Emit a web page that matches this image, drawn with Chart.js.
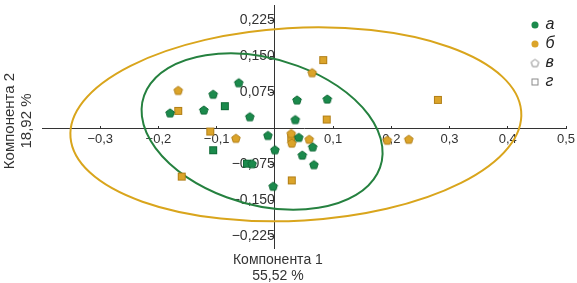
<!DOCTYPE html>
<html><head><meta charset="utf-8">
<script src="https://cdn.jsdelivr.net/npm/chart.js@4.4.1/dist/chart.umd.min.js"></script>
<style>html,body{margin:0;padding:0;background:#fff;overflow:hidden}#wrap{width:577px;height:283px;position:relative}</style>
</head><body><div id="wrap"><canvas id="c"></canvas></div>
<script>
// ---- tick labels & titles ----
const xTicks = [-0.3, -0.2, -0.1, 0.1, 0.2, 0.3, 0.4, 0.5];
const yTicks = [-0.225, -0.15, -0.075, 0.075, 0.15, 0.225];
const xTitle = ['Компонента 1', '55,52 %'];
const yTitle = ['Компонента 2', '18,92 %'];
const legendLabels = ['а', 'б', 'в', 'г'];

// ---- series: group а (green) / б (orange), shape в (pentagon) / г (square) ----
const greenPentX = [-0.062, -0.106, -0.180, -0.122, -0.043, 0.038, 0.090, 0.035, -0.012, 0.041, 0.065, 0.000, 0.047, 0.067, -0.039, -0.003];
const greenPentY = [0.095, 0.071, 0.032, 0.038, 0.024, 0.059, 0.061, 0.018, -0.015, -0.019, -0.039, -0.045, -0.056, -0.076, -0.074, -0.121];
const greenSqX = [-0.086, -0.106, -0.048];
const greenSqY = [0.046, -0.046, -0.074];
const orangePentX = [-0.166, 0.064, -0.067, 0.028, 0.029, 0.059, 0.193, 0.230];
const orangePentY = [0.079, 0.116, -0.021, -0.011, -0.031, -0.023, -0.025, -0.023];
const orangeSqX = [0.083, 0.280, -0.166, 0.089, -0.111, -0.160, 0.029, 0.028];
const orangeSqY = [0.142, 0.059, 0.036, 0.018, -0.007, -0.101, -0.109, -0.020];

// ---- confidence ellipses: [centerX, centerY, semiAxis1, semiAxis2, angleDeg] ----
const greenEllipse = [-0.022, -0.007, 0.2165, 0.150, -24];
const orangeEllipse = [0.036, 0.008, 0.388, 0.201, 4.1];

const GREEN = '#1b8a4c', GREEN_D = '#0f6a36', GREEN_L = '#25813f';
const ORANGE = '#dba42a', ORANGE_D = '#b27f17', ORANGE_L = '#d9a51c';
const GREY = '#8a8a8a';

function pentagon(fill, stroke, size) {
  const s = size + 3, c = document.createElement('canvas');
  c.width = c.height = s;
  const g = c.getContext('2d'), r = size / 2, cx = s / 2, cy = s / 2 + r * 0.1;
  g.beginPath();
  for (let i = 0; i < 5; i++) {
    const a = -Math.PI / 2 + i * 2 * Math.PI / 5;
    const x = cx + r * Math.cos(a), y = cy + r * Math.sin(a);
    i ? g.lineTo(x, y) : g.moveTo(x, y);
  }
  g.closePath();
  if (fill) { g.fillStyle = fill; g.fill(); }
  g.lineWidth = 1; g.strokeStyle = stroke; g.stroke();
  return c;
}
function square(fill, stroke, size) {
  const s = size + 2, c = document.createElement('canvas');
  c.width = c.height = s;
  const g = c.getContext('2d');
  if (fill) { g.fillStyle = fill; g.fillRect(1, 1, size, size); }
  g.lineWidth = 1; g.strokeStyle = stroke; g.strokeRect(1.5, 1.5, size - 1, size - 1);
  return c;
}

const pts = (xs, ys) => xs.map((x, i) => ({x, y: ys[i]}));
const fmt = (v, d) => (v < 0 ? '\u2212' : '') + Math.abs(v).toFixed(d).replace('.', ',');
const noPad = s => { s.paddingTop = 0; s.paddingBottom = 0; s.paddingLeft = 0; s.paddingRight = 0; };

const ellipsePlugin = {
  id: 'ellipses',
  beforeDatasetsDraw(chart) {
    const {ctx, scales: {x, y}} = chart;
    const sx = x.getPixelForValue(1) - x.getPixelForValue(0);
    const sy = y.getPixelForValue(1) - y.getPixelForValue(0);
    [[greenEllipse, GREEN_L], [orangeEllipse, ORANGE_L]].forEach(([e, col]) => {
      ctx.save();
      ctx.beginPath();
      ctx.save();
      ctx.translate(x.getPixelForValue(e[0]), y.getPixelForValue(e[1]));
      ctx.scale(sx, sy);
      ctx.ellipse(0, 0, e[2], e[3], e[4] * Math.PI / 180, 0, Math.PI * 2);
      ctx.restore();
      ctx.lineWidth = 2;
      ctx.strokeStyle = col;
      ctx.stroke();
      ctx.restore();
    });
  }
};

const titlePlugin = {
  id: 'titles',
  beforeDraw(chart) {
    const lg = chart.legend;
    if (lg) {
      const w = lg.width, h = lg.height;
      lg.left = 529.5; lg.right = lg.left + w;
      lg.top = 14; lg.bottom = lg.top + h;
    }
  },
  afterDraw(chart) {
    const {ctx, scales: {x}} = chart;
    const x0 = x.getPixelForValue(0);
    ctx.save();
    ctx.fillStyle = '#333';
    ctx.font = '14px "Liberation Sans", Arial, sans-serif';
    ctx.textAlign = 'center';
    ctx.textBaseline = 'middle';
    ctx.fillText(xTitle[0], x0 + 3, 260);
    ctx.fillText(xTitle[1], x0 + 3, 276);
    ctx.font = '15px "Liberation Sans", Arial, sans-serif';
    ctx.translate(10, 121);
    ctx.rotate(-Math.PI / 2);
    ctx.fillText(yTitle[0], 0, 0);
    ctx.fillText(yTitle[1], 0, 17);
    ctx.restore();
  }
};

Chart.defaults.font.family = '"Liberation Sans", Arial, sans-serif';
Chart.defaults.color = '#333';

const legendItems = [
  {text: legendLabels[0], fillStyle: GREEN, strokeStyle: GREEN, lineWidth: 0, pointStyle: 'circle'},
  {text: legendLabels[1], fillStyle: ORANGE, strokeStyle: ORANGE, lineWidth: 0, pointStyle: 'circle'},
  {text: legendLabels[2], fillStyle: '#fff', strokeStyle: GREY, lineWidth: 1, pointStyle: pentagon('#fff', GREY, 8)},
  {text: legendLabels[3], fillStyle: '#fff', strokeStyle: GREY, lineWidth: 1, pointStyle: square('#fff', GREY, 7)}
].map(o => Object.assign({hidden: false, fontColor: '#222'}, o));

new Chart(document.getElementById('c'), {
  type: 'scatter',
  data: {
    datasets: [
      {label: 'а в', data: pts(greenPentX, greenPentY), pointStyle: pentagon(GREEN, GREEN_D, 9), xAxisID: 'x', yAxisID: 'y'},
      {label: 'а г', data: pts(greenSqX, greenSqY), pointStyle: square(GREEN, GREEN_D, 8), xAxisID: 'x', yAxisID: 'y'},
      {label: 'б в', data: pts(orangePentX, orangePentY), pointStyle: pentagon(ORANGE, ORANGE_D, 9), xAxisID: 'x', yAxisID: 'y'},
      {label: 'б г', data: pts(orangeSqX, orangeSqY), pointStyle: square(ORANGE, ORANGE_D, 8), xAxisID: 'x', yAxisID: 'y'}
    ]
  },
  options: {
    responsive: true,
    maintainAspectRatio: false,
    animation: false,
    events: [],
    elements: {point: {radius: 4, hoverRadius: 4}},
    layout: {padding: {left: 42, right: 11, top: 0, bottom: 35}},
    plugins: {
      tooltip: {enabled: false},
      legend: {
        position: 'chartArea',
        align: 'start',
        labels: {
          usePointStyle: true,
          boxWidth: 5,
          boxHeight: 5,
          padding: 3,
          color: '#222',
          font: {size: 16, style: 'italic', family: '"Liberation Sans", Arial, sans-serif'},
          generateLabels: () => legendItems
        }
      }
    },
    scales: {
      x: {
        type: 'linear',
        position: {y: 0},
        min: -0.4, max: 0.5,
        afterBuildTicks: s => { s.ticks = xTicks.map(v => ({value: v})); },
        afterFit: s => { s.height = 0; noPad(s); },
        border: {display: true, color: '#333', width: 1},
        grid: {display: true, drawOnChartArea: false, drawTicks: true, tickLength: -3, color: '#333'},
        ticks: {padding: 6, autoSkip: false, maxRotation: 0, font: {size: 13}, color: '#333', callback: v => fmt(v, 1)}
      },
      y: {
        type: 'linear',
        position: {x: 0},
        min: -0.25, max: 0.257,
        afterBuildTicks: s => { s.ticks = yTicks.map(v => ({value: v})); },
        afterFit: s => { s.width = 0; noPad(s); },
        border: {display: true, color: '#333', width: 1},
        grid: {display: true, drawOnChartArea: false, drawTicks: true, tickLength: 4, color: '#333'},
        ticks: {padding: 2, autoSkip: false, font: {size: 14}, color: '#333', callback: v => fmt(v, 3)}
      }
    }
  },
  plugins: [ellipsePlugin, titlePlugin]
});
</script></body></html>
